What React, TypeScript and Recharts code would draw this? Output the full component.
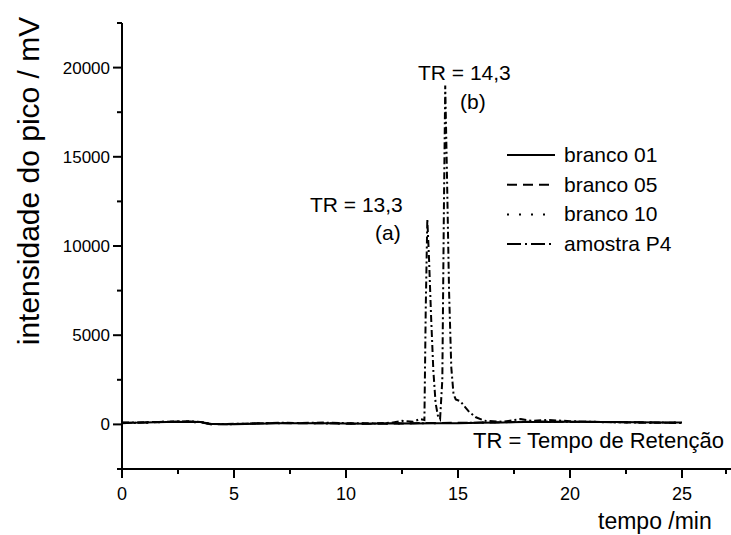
import { LineChart, Line, XAxis, YAxis, Legend } from "recharts";

// tempo (min) for the blank runs
const tempoBranco = [0, 1, 2, 3, 3.5, 4, 5, 6, 7, 8, 9, 10, 11, 12, 13, 14, 15, 16, 17, 18, 19, 20, 21, 22, 23, 24, 25];
const branco01 = [90, 100, 140, 150, 130, 20, 10, 40, 60, 70, 60, 50, 40, 60, 50, 60, 70, 90, 110, 130, 140, 150, 140, 130, 120, 110, 100];
const branco05 = [70, 110, 150, 160, 120, 0, 20, 60, 80, 60, 70, 40, 30, 40, 70, 80, 90, 100, 120, 150, 160, 140, 150, 120, 120, 100, 90];
const branco10 = [80, 90, 130, 140, 110, 30, 0, 50, 70, 80, 50, 60, 50, 50, 60, 70, 80, 110, 130, 140, 130, 150, 130, 120, 110, 100, 100];

// amostra P4 has finer sampling around the two peaks
const tempoP4 = [0, 1, 2, 3, 3.5, 4, 5, 6, 7, 8, 9, 10, 11, 12, 12.5, 13, 13.3, 13.5, 13.56, 13.63, 13.7, 13.8, 13.9, 14.0, 14.1, 14.2, 14.3, 14.37, 14.43, 14.5, 14.6, 14.7, 14.8, 14.9, 15.1, 15.3, 15.5, 15.8, 16.2, 17, 17.8, 18.3, 19, 20, 21, 22, 23, 24, 25];
const amostraP4 = [100, 120, 150, 170, 140, 20, 30, 60, 90, 80, 100, 70, 60, 90, 200, 150, 300, 250, 6500, 11500, 9500, 6000, 3000, 1200, 500, 300, 2500, 12000, 19000, 14500, 7500, 3200, 1700, 1400, 1300, 1000, 700, 400, 200, 150, 300, 200, 250, 180, 150, 120, 100, 90, 80];

const xTicks = [0, 2.5, 5, 7.5, 10, 12.5, 15, 17.5, 20, 22.5, 25, 27.5];
const yTicks = [-2500, 0, 2500, 5000, 7500, 10000, 12500, 15000, 17500, 20000, 22500];

const toPoints = (t: number[], v: number[]) => t.map((tt, i) => ({ t: tt, v: v[i] }));

const series = [
  { name: "branco 01", data: toPoints(tempoBranco, branco01), dash: undefined, legendDash: undefined },
  { name: "branco 05", data: toPoints(tempoBranco, branco05), dash: "10 6", legendDash: "10 6" },
  { name: "branco 10", data: toPoints(tempoBranco, branco10), dash: "2 10", legendDash: "2 10" },
  { name: "amostra P4", data: toPoints(tempoP4, amostraP4), dash: "7 3 2 3", legendDash: "14 4 2 4" },
];

const FONT = "'Liberation Sans', Arial, sans-serif";

function YTick({ x, y, payload }: any) {
  const major = payload.value % 5000 === 0;
  return (
    <g>
      <line x1={x} x2={x - (major ? 9 : 5)} y1={y} y2={y} stroke="#000" strokeWidth={2} />
      {major && (
        <text x={x - 12} y={y} dy={6} textAnchor="end" fontSize={17} fontFamily={FONT} fill="#000">
          {payload.value}
        </text>
      )}
    </g>
  );
}

function XTick({ x, y, payload }: any) {
  const major = payload.value % 5 === 0;
  return (
    <g>
      <line x1={x} x2={x} y1={y} y2={y + (major ? 9 : 5)} stroke="#000" strokeWidth={2} />
      {major && (
        <text x={x} y={y + 31} textAnchor="middle" fontSize={18} fontFamily={FONT} fill="#000">
          {payload.value}
        </text>
      )}
    </g>
  );
}

function LegendBox() {
  return (
    <svg width={200} height={120}>
      {series.map((s, i) => {
        const cy = 15 + i * 29.7;
        return (
          <g key={s.name}>
            <line x1={2} x2={50} y1={cy} y2={cy} stroke="#000" strokeWidth={2} strokeDasharray={s.legendDash} />
            <text x={59} y={cy + 7} fontSize={21} fontFamily={FONT} fill="#000">
              {s.name}
            </text>
          </g>
        );
      })}
    </svg>
  );
}

export default function App() {
  return (
    <div style={{ position: "absolute", left: 0, top: 0, width: 731, height: 535, overflow: "hidden", background: "#fff" }}>
      <LineChart width={740} height={560} margin={{ top: 23, right: 2, bottom: 61, left: 62 }}>
        <XAxis
          type="number"
          dataKey="t"
          domain={[0, 27.5]}
          ticks={xTicks}
          allowDataOverflow
          height={30}
          tickSize={0}
          tickMargin={0}
          tickLine={false}
          axisLine={{ stroke: "#000", strokeWidth: 2 }}
          tick={<XTick />}
        />
        <YAxis
          type="number"
          domain={[-2500, 22500]}
          ticks={yTicks}
          allowDataOverflow
          width={60}
          tickSize={0}
          tickMargin={0}
          tickLine={false}
          axisLine={{ stroke: "#000", strokeWidth: 2 }}
          tick={<YTick />}
        />
        <Legend
          layout="vertical"
          align="center"
          verticalAlign="middle"
          content={() => <LegendBox />}
          wrapperStyle={{ left: 505, top: 140, width: 200 }}
        />
        {series.map((s) => (
          <Line
            key={s.name}
            name={s.name}
            data={s.data}
            dataKey="v"
            type="linear"
            stroke="#000"
            strokeWidth={2}
            strokeDasharray={s.dash}
            dot={false}
            activeDot={false}
            isAnimationActive={false}
          />
        ))}
      </LineChart>
      <svg width={731} height={535} style={{ position: "absolute", left: 0, top: 0, pointerEvents: "none" }}>
        <g fontFamily={FONT} fill="#000">
          <text x={39} y={181} fontSize={30} textAnchor="middle" transform="rotate(-90 39 181)">
            intensidade do pico / mV
          </text>
          <text x={598} y={529} fontSize={23}>tempo /min</text>
          <text x={473} y={448} fontSize={22}>TR = Tempo de Retenção</text>
          <text x={310} y={212} fontSize={21}>TR = 13,3</text>
          <text x={375} y={240} fontSize={21}>(a)</text>
          <text x={418} y={80} fontSize={21}>TR = 14,3</text>
          <text x={460} y={109} fontSize={21}>(b)</text>
        </g>
      </svg>
    </div>
  );
}
